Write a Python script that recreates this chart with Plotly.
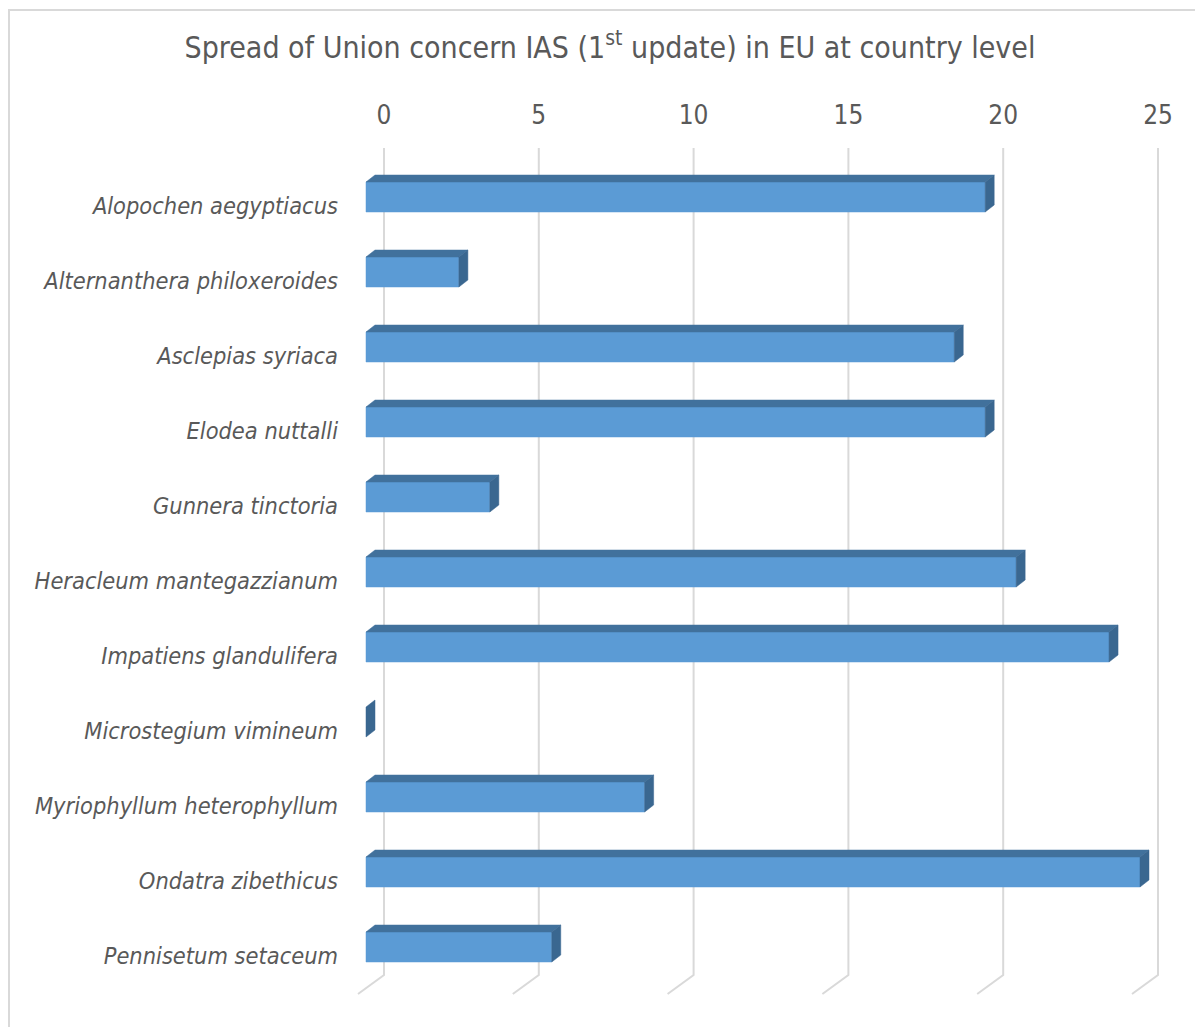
import plotly.graph_objects as go

species = [
    "Alopochen aegyptiacus",
    "Alternanthera philoxeroides",
    "Asclepias syriaca",
    "Elodea nuttalli",
    "Gunnera tinctoria",
    "Heracleum mantegazzianum",
    "Impatiens glandulifera",
    "Microstegium vimineum",
    "Myriophyllum heterophyllum",
    "Ondatra zibethicus",
    "Pennisetum setaceum",
]
countries = [20, 3, 19, 20, 4, 21, 24, 0, 9, 25, 6]
x_ticks = [0, 5, 10, 15, 20, 25]
title_text = "Spread of Union concern IAS (1<sup>st</sup> update) in EU at country level"

# page body margin of the html page shifts the figure by 8 px
OFF = 8
W, H = 1203 - OFF, 1027 - OFF

def R(px):  # reference pixel -> figure pixel
    return px - OFF

ML, MR, MT, MB = R(339), 12, R(130), 20
X0PX, PXU = R(384.0), 30.96        # back-wall zero pixel, pixels per unit
Y0PX, PXC = R(206.0), 75.0         # first category label pixel, pixels per category

def px_to_x(px):
    return (px - X0PX) / PXU

def px_to_y(py):
    return (py - Y0PX) / PXC

x_range = [px_to_x(ML), px_to_x(W - MR)]
y_range = [px_to_y(H - MB), px_to_y(MT)]

front_off = -18 / PXU        # front face shift (units)
ddx = 9 / PXU                # bar depth in x
ddy = 7 / PXC                # bar depth in y (upwards)
ftop = (182 - 206) / PXC
fbot = (212 - 206) / PXC

FRONT = "#5B9BD5"
TOP = "#41719C"
SIDE = "#3A6790"
GRID = "#D9D9D9"
TXT = "#595959"
FONT = "DejaVu Sans Condensed, DejaVu Sans"

fig = go.Figure()

# gridlines: back wall + floor diagonal
g_top = px_to_y(R(148))
g_bot = px_to_y(R(975))
f_dx = 26 / PXU
f_end = px_to_y(R(994))
gx, gy = [], []
for t in x_ticks:
    gx += [t, t, t - f_dx, None]
    gy += [g_top, g_bot, f_end, None]
fig.add_trace(go.Scatter(x=gx, y=gy, mode="lines", line=dict(color=GRID, width=2),
                         hoverinfo="skip", showlegend=False))

for i, (name, v) in enumerate(zip(species, countries)):
    xl = front_off
    xr = v + front_off
    yt = i + ftop
    yb = i + fbot
    if v > 0:
        # front face
        fig.add_trace(go.Scatter(x=[xl, xr, xr, xl, xl], y=[yt, yt, yb, yb, yt],
                                 fill="toself", fillcolor=FRONT, mode="lines",
                                 line=dict(color=FRONT, width=0.5),
                                 hoverinfo="skip", showlegend=False))
        # top face
        fig.add_trace(go.Scatter(x=[xl, xr, xr + ddx, xl + ddx, xl],
                                 y=[yt, yt, yt - ddy, yt - ddy, yt],
                                 fill="toself", fillcolor=TOP, mode="lines",
                                 line=dict(color=TOP, width=0.5),
                                 hoverinfo="skip", showlegend=False))
    # side face
    fig.add_trace(go.Scatter(x=[xr, xr + ddx, xr + ddx, xr, xr],
                             y=[yt, yt - ddy, yb - ddy, yb, yt],
                             fill="toself", fillcolor=SIDE, mode="lines",
                             line=dict(color=SIDE, width=0.5),
                             hoverinfo="skip", showlegend=False))

# chart border
pw = W - ML - MR
ph = H - MT - MB
fig.add_shape(type="rect", xref="paper", yref="paper",
              x0=(R(9) - ML) / pw, x1=(W + 20 - ML) / pw,
              y0=-0.2, y1=(H - MB - R(10)) / ph,
              line=dict(color=GRID, width=2), fillcolor="rgba(0,0,0,0)", layer="below")

fig.update_layout(
    width=W, height=H,
    margin=dict(l=ML, r=MR, t=MT, b=MB),
    paper_bgcolor="white", plot_bgcolor="white",
    font=dict(family=FONT, color=TXT),
    title=dict(text=title_text, x=R(610) / W, xanchor="center", y=1 - R(47) / H, yanchor="middle",
               font=dict(size=30, color=TXT, family=FONT)),
    xaxis=dict(range=x_range, side="top", tickvals=x_ticks, ticktext=[str(t) for t in x_ticks],
               showgrid=False, zeroline=False, showline=False, ticks="",
               tickfont=dict(size=26, color=TXT, family=FONT), fixedrange=True),
    yaxis=dict(range=y_range, tickvals=list(range(len(species))),
               ticktext=["<i>%s</i>" % s for s in species],
               showgrid=False, zeroline=False, showline=False, ticks="",
               tickfont=dict(size=23.4, color=TXT, family=FONT), fixedrange=True),
)

fig.write_html("out.html")
